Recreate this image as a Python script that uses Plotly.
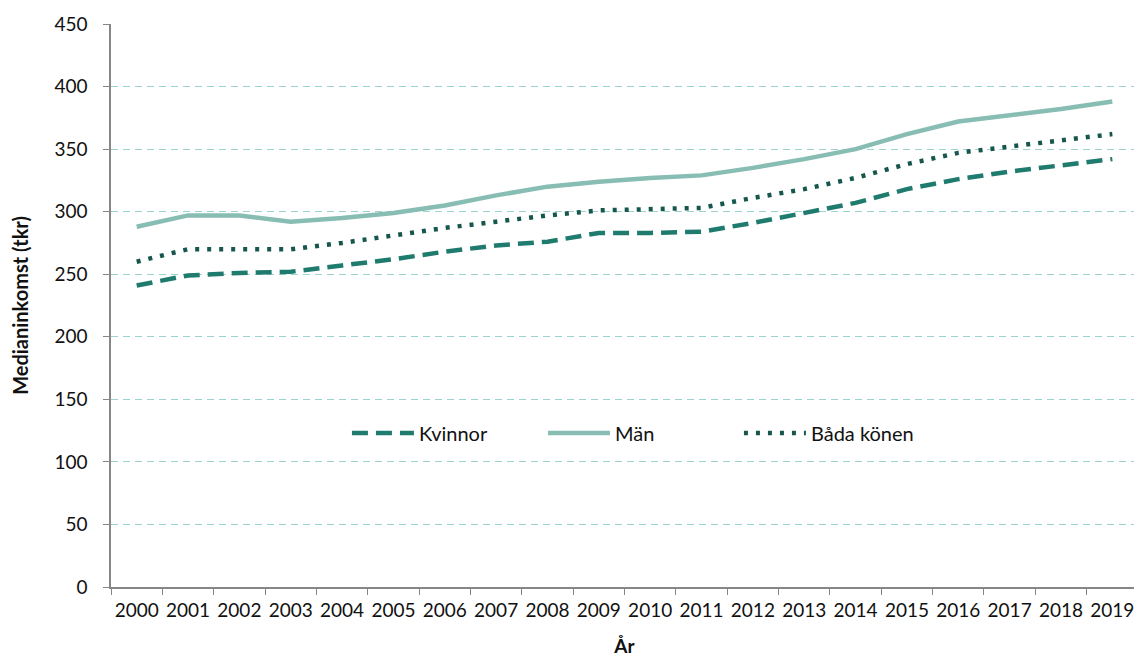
import plotly.graph_objects as go

years = [str(y) for y in range(2000, 2020)]
kvinnor = [241, 249, 251, 252, 257, 262, 268, 273, 276, 283, 283, 284, 291, 299, 307, 318, 326, 332, 337, 342]
man = [288, 297, 297, 292, 295, 299, 305, 313, 320, 324, 327, 329, 335, 342, 350, 362, 372, 377, 382, 388]
bada = [260, 270, 270, 270, 275, 281, 287, 292, 297, 301, 302, 303, 311, 318, 327, 338, 347, 352, 357, 362]

font_name = "Lato, Liberation Sans, sans-serif"

fig = go.Figure()
fig.add_trace(go.Scatter(x=years, y=kvinnor, name="Kvinnor", mode="lines",
                         line=dict(color="#1f7b6e", width=4.5, dash="16px,8px")))
fig.add_trace(go.Scatter(x=years, y=man, name="Män", mode="lines",
                         line=dict(color="#88bdb3", width=4.5)))
fig.add_trace(go.Scatter(x=years, y=bada, name="Båda könen", mode="lines",
                         line=dict(color="#16574d", width=4.5, dash="4px,8px")))

# page body has an 8px margin, so the figure is a bit smaller than the window
fig.update_layout(
    width=1134, height=654,
    margin=dict(l=103, r=4, t=16, b=75),
    plot_bgcolor="white", paper_bgcolor="white",
    font=dict(family=font_name, size=18, color="#111111"),
    showlegend=True,
    legend=dict(orientation="h", x=0.516, xanchor="center", y=0.2735, yanchor="middle",
                itemwidth=62, entrywidth=119, font=dict(size=20),
                bgcolor="rgba(0,0,0,0)"),
)
fig.update_xaxes(
    type="category", range=[-0.5, 19.5], tickson="boundaries", ticks="outside", ticklen=6,
    tickcolor="#868686", showline=True, linecolor="#868686", linewidth=1.5,
    ticklabelstandoff=5, tickangle=0,
    showgrid=False, tickfont=dict(size=19),
    title=dict(text="<b>År</b>", font=dict(size=19), standoff=20),
)
fig.update_yaxes(
    range=[0, 450], dtick=50, ticks="outside", ticklen=6, tickcolor="#868686",
    ticklabelstandoff=12,
    showline=True, linecolor="#868686", linewidth=1.5,
    showgrid=True, gridcolor="#9dd3cf", gridwidth=1.3, griddash="7px,5px",
    zeroline=False, tickfont=dict(size=19),
    title=dict(text="<b>Medianinkomst (tkr)</b>", font=dict(size=20), standoff=20),
)

fig.write_html("out.html")
